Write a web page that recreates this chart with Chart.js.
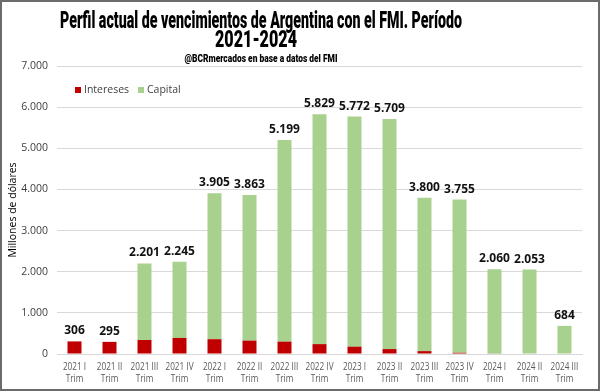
<!DOCTYPE html>
<html>
<head>
<meta charset="utf-8">
<script src="https://cdn.jsdelivr.net/npm/chart.js@4/dist/chart.umd.min.js"></script>
<style>
  body { margin: 0; background: #fff; }
  #wrap { width: 600px; height: 391px; box-sizing: border-box; border: 2px solid #6b6b6b; }
</style>
</head>
<body>
<div id="wrap"><canvas id="myChart" width="596" height="387"></canvas></div>
<script>
const periods = ['2021 I', '2021 II', '2021 III', '2021 IV', '2022 I', '2022 II', '2022 III', '2022 IV',
  '2023 I', '2023 II', '2023 III', '2023 IV', '2024 I', '2024 II', '2024 III'];
const totals = [306, 295, 2201, 2245, 3905, 3863, 5199, 5829, 5772, 5709, 3800, 3755, 2060, 2053, 684];
const intereses = [306, 295, 340, 390, 360, 325, 300, 240, 178, 120, 70, 30, 10, 0, 0];
const capital = totals.map((t, i) => t - intereses[i]);

const titleLines = ['Perfil actual de vencimientos de Argentina con el FMI. Período', '2021-2024'];
const subtitleText = '@BCRmercados en base a datos del FMI';

const fmt = v => String(v).replace(/\B(?=(\d{3})+(?!\d))/g, '.');

// draws text squeezed horizontally so it fits a target width (the original uses a condensed face)
function condensedText(ctx, text, cx, y, width) {
  const w = ctx.measureText(text).width;
  const k = Math.min(1, width / w);
  ctx.save();
  ctx.translate(cx, y);
  ctx.scale(k, 1);
  ctx.fillText(text, 0, 0);
  ctx.restore();
}

const titles = {
  id: 'titles',
  afterDraw(chart) {
    const ctx = chart.ctx;
    ctx.save();
    ctx.fillStyle = '#000';
    ctx.textAlign = 'center';
    ctx.textBaseline = 'alphabetic';
    ctx.font = "900 24px 'Roboto', sans-serif";
    condensedText(ctx, titleLines[0], 259, 26, 402);
    condensedText(ctx, titleLines[1], 254, 45, 82);
    ctx.font = "900 10.5px 'Roboto', sans-serif";
    condensedText(ctx, subtitleText, 259, 60, 153);
    ctx.restore();
  }
};

// x labels in two lines, narrow like the original
const xLabels = {
  id: 'xLabels',
  afterDraw(chart) {
    const ctx = chart.ctx;
    const xs = chart.scales.x;
    const base = chart.chartArea.bottom;
    ctx.save();
    ctx.fillStyle = '#595959';
    ctx.textAlign = 'center';
    ctx.textBaseline = 'middle';
    ctx.font = "10px 'Open Sans', sans-serif";
    periods.forEach((p, i) => {
      const x = xs.getPixelForValue(i);
      condensedText(ctx, p, x, base + 13, ctx.measureText(p).width * 0.82);
      condensedText(ctx, 'Trim', x, base + 25, ctx.measureText('Trim').width * 0.82);
    });
    ctx.restore();
  }
};

// totals above each bar
const totalLabels = {
  id: 'totalLabels',
  afterDatasetsDraw(chart) {
    const ctx = chart.ctx;
    const meta = chart.getDatasetMeta(1);
    ctx.save();
    ctx.font = "bold 12px 'Open Sans', sans-serif";
    ctx.fillStyle = '#111';
    ctx.textAlign = 'center';
    ctx.textBaseline = 'alphabetic';
    meta.data.forEach((bar, i) => {
      ctx.fillText(fmt(totals[i]), bar.x, bar.y - 7);
    });
    ctx.restore();
  }
};

// legend drawn inside the plot area
const innerLegend = {
  id: 'innerLegend',
  afterDraw(chart) {
    const ctx = chart.ctx;
    const x0 = chart.chartArea.left + 18;
    const y0 = chart.chartArea.top + 24;
    ctx.save();
    ctx.font = "10.5px 'Open Sans', sans-serif";
    ctx.textBaseline = 'middle';
    ctx.fillStyle = '#c00000';
    ctx.fillRect(x0, y0 - 3, 6, 6);
    ctx.fillStyle = '#404040';
    ctx.fillText('Intereses', x0 + 9, y0);
    const x1 = x0 + 63;
    ctx.fillStyle = '#a9d18e';
    ctx.fillRect(x1, y0 - 3, 6, 6);
    ctx.fillStyle = '#404040';
    ctx.fillText('Capital', x1 + 9, y0);
    ctx.restore();
  }
};

const ctx = document.getElementById('myChart').getContext('2d');
new Chart(ctx, {
  type: 'bar',
  data: {
    labels: periods,
    datasets: [
      { label: 'Intereses', data: intereses, backgroundColor: '#c00000', barPercentage: 0.4, categoryPercentage: 1 },
      { label: 'Capital', data: capital, backgroundColor: '#a9d18e', barPercentage: 0.4, categoryPercentage: 1 }
    ]
  },
  options: {
    responsive: false,
    animation: false,
    layout: { padding: { left: 0, right: 16, top: 64, bottom: 0 } },
    plugins: {
      legend: { display: false },
      tooltip: { enabled: false },
      title: { display: false }
    },
    scales: {
      x: {
        stacked: true,
        grid: { display: false },
        border: { color: '#d9d9d9' },
        ticks: { display: false },
        afterFit: s => { s.height = 35; }
      },
      y: {
        stacked: true,
        min: 0,
        max: 7000,
        afterFit: s => { s.width = 55; },
        ticks: {
          stepSize: 1000,
          color: '#404040',
          font: { family: "'Open Sans', sans-serif", size: 10.5 },
          padding: 9,
          callback: v => fmt(v)
        },
        grid: { color: '#d9d9d9', drawTicks: false },
        border: { display: false },
        title: {
          display: true,
          text: 'Millones de dólares',
          color: '#000',
          font: { family: "'Open Sans', sans-serif", size: 10.5 },
          padding: { top: 5, bottom: 0 }
        }
      }
    }
  },
  plugins: [totalLabels, innerLegend, titles, xLabels]
});
</script>
</body>
</html>
